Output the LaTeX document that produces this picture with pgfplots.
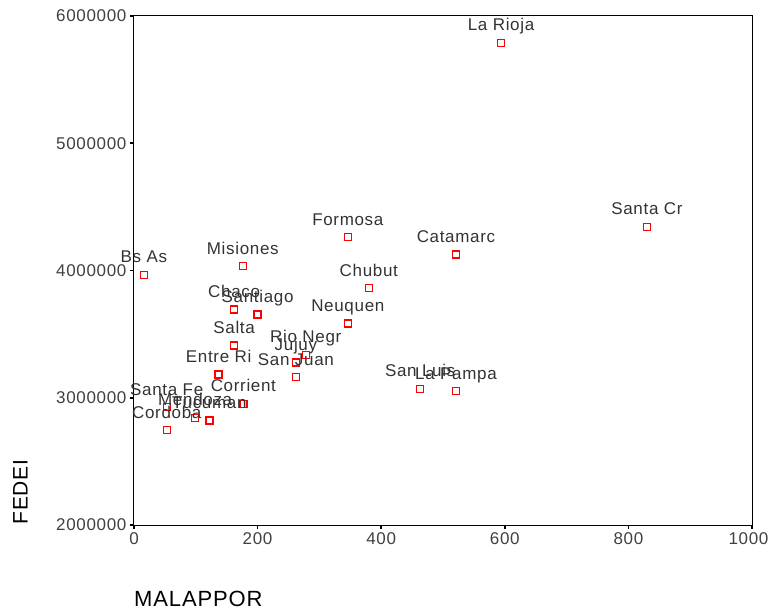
\documentclass[border=0pt]{standalone}
\usepackage{fontspec}
\setmainfont{Liberation Sans}[LetterSpace=4]
\usepackage{pgfplots}
\usepackage{pgfplotstable}
\pgfplotsset{compat=1.18}
\pgfplotstableread[col sep=comma]{
x,y,label
16,3965000,Bs As
176,4035000,Misiones
162,3695000,Chaco
200,3653000,Santiago
162,3412000,Salta
137,3184000,Entre Ri
278,3336000,Rio Negr
262,3276000,Jujuy
262,3163000,San Juan
53,2927000,Santa Fe
177,2951000,Corrient
99,2843000,Mendoza
122,2822000,Tucuman
53,2745000,Cordoba
346,4263000,Formosa
521,4127000,Catamarc
380,3862000,Chubut
346,3585000,Neuquen
463,3069000,San Luis
521,3053000,La Pampa
594,5788000,La Rioja
830,4344000,Santa Cr
}\datatable
\begin{document}
\begin{tikzpicture}
\useasboundingbox (-134pt,-85pt) rectangle (634pt,525pt);
\begin{axis}[
  at={(0,0)}, anchor=south west,
  scale only axis, width=618pt, height=509pt,
  xmin=0, xmax=1000, ymin=2000000, ymax=6000000,
  scaled x ticks=false, scaled y ticks=false,
  xtick={0,200,400,600,800,1000},
  xticklabels={0,200,400,600,800,\hspace*{-7pt}1000},
  ytick={2000000,3000000,4000000,5000000,6000000},
  yticklabels={2000000,3000000,4000000,5000000,6000000},
  tick label style={font=\fontsize{17}{17}\selectfont, text=black!75},
  tick align=outside, major tick length=4pt,
  xtick pos=bottom, ytick pos=left,
  tick style={black, line width=1.5pt},
  axis line style={black, line width=1pt},
  clip=false,
  xlabel={MALAPPOR}, ylabel={FEDEI},
  every axis x label/.style={at={(axis description cs:0.0,-0.145)}, anchor=west, inner sep=0pt, font=\fontsize{22}{22}\selectfont},
  every axis y label/.style={at={(axis description cs:-0.184,0.065)}, anchor=center, rotate=90, inner sep=0pt, font=\fontsize{21}{21}\selectfont},
]
\addplot[only marks, mark=square, mark size=3.5pt, draw=red, mark options={line width=1.4pt, draw=red, fill=white},
  nodes near coords, point meta=explicit symbolic,
  every node near coord/.append style={anchor=base, yshift=12pt, inner sep=0pt, text=black!80, font=\fontsize{17}{17}\selectfont}]
  table[x=x, y=y, meta=label] {\datatable};
\end{axis}
\end{tikzpicture}
\end{document}
